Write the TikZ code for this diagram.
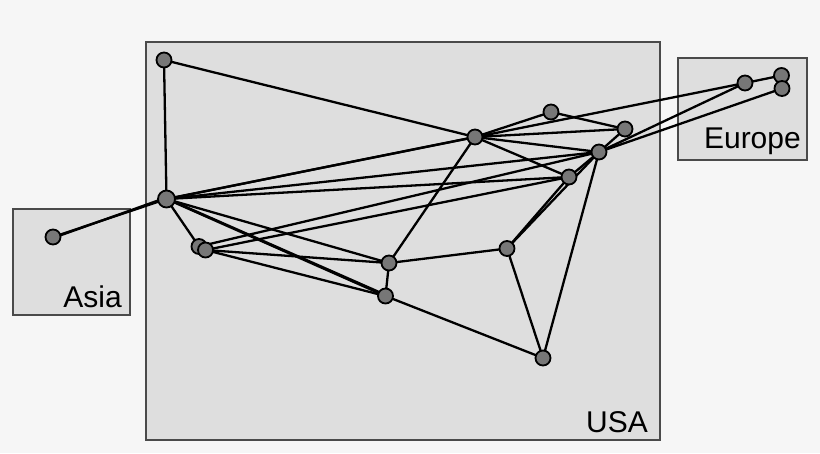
\documentclass[tikz,border=0pt]{standalone}
\usepackage{fontspec}
\setmainfont{Liberation Sans}
\definecolor{bgc}{HTML}{F6F6F6}
\definecolor{boxfill}{HTML}{DEDEDE}
\definecolor{boxline}{HTML}{4A4A4A}
\definecolor{vfill}{HTML}{777777}
\begin{document}
\begin{tikzpicture}[x=1pt,y=-1pt,
  region/.style={fill=boxfill,draw=boxline,line width=1.4pt},
  vx/.style={circle,fill=vfill,draw=black,line width=1.8pt,minimum size=15pt,inner sep=0pt},
  hub/.style={vx,minimum size=17pt},
  edge/.style={draw=black,line width=2.3pt},
  lbl/.style={font=\fontsize{30}{31}\selectfont,anchor=base east,inner sep=0pt}]
\useasboundingbox (0,0) rectangle (820,453);
\fill[bgc] (0,0) rectangle (820,453);
% regions
\draw[region] (146,42) rectangle (660,440);
\draw[region] (13,209) rectangle (130,315);
\draw[region] (678,58) rectangle (807,160);
\node[lbl] (asia) at (122,307) {Asia};
\node[lbl] (usa) at (648,432) {USA};
\node[lbl] (europe) at (801,148) {Europe};
% vertex positions
\coordinate (pA) at (164,60);
\coordinate (pB) at (166.5,199);
\coordinate (pC) at (53,237);
\coordinate (pD) at (199,246.5);
\coordinate (pE) at (205.5,250);
\coordinate (pF) at (389,263);
\coordinate (pG) at (385.5,296);
\coordinate (pH) at (507,248.5);
\coordinate (pI) at (543,358);
\coordinate (pJ) at (475,137);
\coordinate (pK) at (551,112);
\coordinate (pL) at (625,129);
\coordinate (pM) at (599,152);
\coordinate (pN) at (569,177);
\coordinate (pO) at (745,83);
\coordinate (pP) at (781.5,75.5);
\coordinate (pQ) at (782,88.5);
% edges
\begin{scope}[edge]
\draw (pA) -- (pB);
\draw (pA) -- (pJ);
\draw (pC) -- (pB);
\draw ([yshift=-1pt]pC) -- ([yshift=1.5pt]pB);
\draw (pB) -- (pJ);
\draw (pB) -- (pO);
\draw (pB) -- (pM);
\draw (pB) -- (pN);
\draw (pB) -- (pD);
\draw (pB) -- (pF);
\draw (pB) -- (pG);
\draw ([xshift=1.5pt]pB) -- ([xshift=1.5pt,yshift=0.5pt]pG);
\draw (pD) -- (pM);
\draw (pE) -- (pN);
\draw (pE) -- (pF);
\draw (pE) -- (pG);
\draw (pF) -- (pG);
\draw (pF) -- (pJ);
\draw (pF) -- (pH);
\draw (pH) -- (pI);
\draw (pG) -- (pI);
\draw (pI) -- (pM);
\draw (pH) -- (pN);
\draw (pH) -- (pM);
\draw (pN) -- (pM);
\draw (pM) -- (pL);
\draw (pJ) -- (pK);
\draw (pJ) -- (pL);
\draw (pJ) -- (pM);
\draw (pJ) -- (pN);
\draw (pK) -- (pL);
\draw (pO) -- (pP);
\draw (pO) -- (pM);
\draw (pQ) -- (pM);
\end{scope}
% vertices
\node[vx] (A) at (pA) {};
\node[hub] (B) at (pB) {};
\node[vx] (C) at (pC) {};
\node[vx] (D) at (pD) {};
\node[vx] (E) at (pE) {};
\node[vx] (F) at (pF) {};
\node[vx] (G) at (pG) {};
\node[vx] (H) at (pH) {};
\node[vx] (I) at (pI) {};
\node[vx] (J) at (pJ) {};
\node[vx] (K) at (pK) {};
\node[vx] (L) at (pL) {};
\node[vx] (M) at (pM) {};
\node[vx] (N) at (pN) {};
\node[vx] (O) at (pO) {};
\node[vx] (P) at (pP) {};
\node[vx] (Q) at (pQ) {};
\end{tikzpicture}
\end{document}
